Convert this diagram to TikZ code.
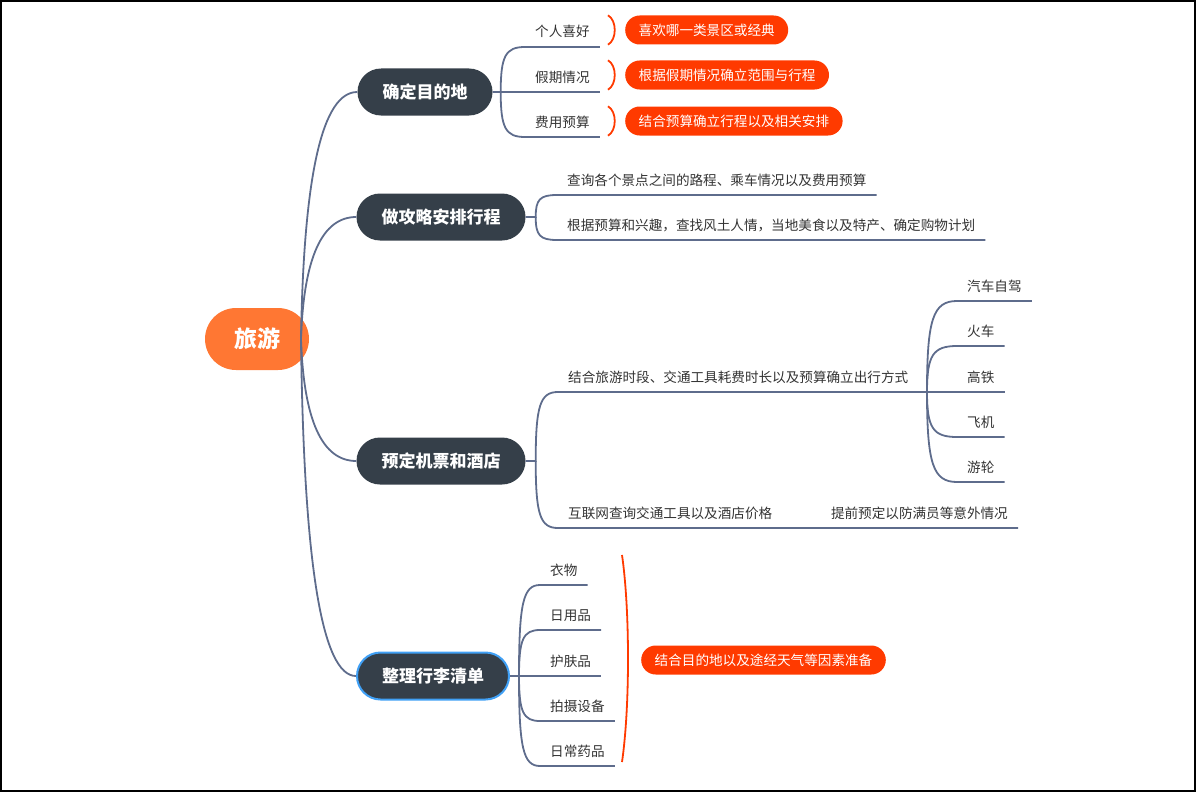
\documentclass[tikz,border=0pt]{standalone}
\usepackage{fontspec}
\setmainfont{Noto Sans CJK SC}
\usetikzlibrary{positioning,calc}

\definecolor{linkgray}{RGB}{94,108,140}
\definecolor{topicdark}{RGB}{53,63,73}
\definecolor{rootorange}{RGB}{255,119,51}
\definecolor{notered}{RGB}{255,58,0}
\definecolor{selblue}{RGB}{64,160,245}
\definecolor{textgray}{RGB}{51,51,51}

\begin{document}
\begin{tikzpicture}[
    x=1pt, y=-1pt,
    root/.style={rectangle, rounded corners=31pt, fill=rootorange, text=white, minimum height=62pt, inner xsep=29pt, font=\fontsize{23}{26}\selectfont\bfseries},
    topic/.style={rectangle, rounded corners=23.5pt, fill=topicdark, text=white, minimum height=47pt, inner xsep=25pt, font=\fontsize{17}{20}\selectfont\bfseries},
    sub/.style={anchor=south west, inner xsep=10pt, inner ysep=3pt, text height=11pt, text depth=6.8pt, text=textgray, font=\fontsize{13.6}{16}\selectfont},
    note/.style={rectangle, rounded corners=14.5pt, fill=notered, text=white, minimum height=29pt, inner xsep=13.5pt, anchor=west, font=\fontsize{13.6}{16}\selectfont},
    link/.style={draw=linkgray, line width=1.8pt},
    brace/.style={draw=notered, line width=1.8pt},
    elbow/.style={to path={.. controls ($(\tikztostart)!0.8!(\tikztostart |- \tikztotarget)$) and ($(\tikztotarget)!0.8!(\tikztostart |- \tikztotarget)$) .. (\tikztotarget)}}
]
    \useasboundingbox (0,0) rectangle (1196,792);
    \draw[line width=2.5pt] (1,1) rectangle (1195,791);

    % Topics
    \node[root] (trip) at (257,339) {旅游};
    \node[topic] (dest) at (425,92) {确定目的地};
    \node[topic] (plan) at (441,217) {做攻略安排行程};
    \node[topic] (book) at (441,461) {预定机票和酒店};
    \node[topic, draw=selblue, line width=2pt] (pack) at (433,676) {整理行李清单};

    % Root links
    \coordinate (r0) at (301,339);
    \coordinate (r1) at (305,339);
    \coordinate (cd) at (r1 |- dest.west);
    \coordinate (cp) at (r1 |- plan.west);
    \coordinate (cb) at (r1 |- book.west);
    \coordinate (ck) at (r1 |- pack.west);
    \draw[link] (r0) .. controls ($(r0)!0.667!(cd)$) and ($(dest.west)!0.667!(cd)$) .. (dest.west);
    \draw[link] (r0) .. controls ($(r0)!0.667!(cp)$) and ($(plan.west)!0.667!(cp)$) .. (plan.west);
    \draw[link] (r0) .. controls ($(r0)!0.667!(cb)$) and ($(book.west)!0.667!(cb)$) .. (book.west);
    \draw[link] (r0) .. controls ($(r0)!0.667!(ck)$) and ($(pack.west)!0.667!(ck)$) .. (pack.west);

    % Destination
    \node[sub] (like) at (525,47) {个人喜好};
    \node[sub] (holiday) at (525,92) {假期情况};
    \node[sub] (budget) at (525,137) {费用预算};
    \coordinate (d0) at ([xshift=8pt]dest.east);
    \draw[link] (dest.east) -- (d0) to[elbow] (like.south west) -- (like.south east);
    \draw[link] (dest.east) -- (holiday.south east);
    \draw[link] (d0) to[elbow] (budget.south west) -- (budget.south east);

    \node[note] (likenote) at (625,30) {喜欢哪一类景区或经典};
    \node[note] (holinote) at (625,75) {根据假期情况确立范围与行程};
    \node[note] (budgnote) at (625,121) {结合预算确立行程以及相关安排};
    \draw[brace] ([xshift=-17pt]likenote.north west) .. controls +(9,5) and +(9,-5) .. ([xshift=-17pt]likenote.south west);
    \draw[brace] ([xshift=-17pt]holinote.north west) .. controls +(9,5) and +(9,-5) .. ([xshift=-17pt]holinote.south west);
    \draw[brace] ([xshift=-17pt]budgnote.north west) .. controls +(9,5) and +(9,-5) .. ([xshift=-17pt]budgnote.south west);

    % Plan
    \node[sub] (route) at (557,195) {查询各个景点之间的路程、乘车情况以及费用预算};
    \node[sub] (taste) at (557,240) {根据预算和兴趣，查找风土人情，当地美食以及特产、确定购物计划};
    \coordinate (p0) at ([xshift=10pt]plan.east);
    \draw[link] (plan.east) -- (p0) to[elbow] (route.south west) -- (route.south east);
    \draw[link] (p0) to[elbow] (taste.south west) -- (taste.south east);

    % Booking
    \node[sub] (mode) at (558,392) {结合旅游时段、交通工具耗费时长以及预算确立出行方式};
    \node[sub] (price) at (558,528) {互联网查询交通工具以及酒店价格};
    \node[sub, anchor=south east] (early) at (1018,528) {提前预定以防满员等意外情况};
    \coordinate (b0) at ([xshift=10pt]book.east);
    \draw[link] (book.east) -- (b0) to[elbow] (mode.south west) -- (mode.south east);
    \draw[link] (b0) to[elbow] (price.south west) -- (price.south east) -- (early.south east);

    \coordinate (m0) at (927,392);
    \node[sub] (car) at (957,301) {汽车自驾};
    \node[sub] (train) at (957,346) {火车};
    \node[sub] (rail) at (957,392) {高铁};
    \node[sub] (plane) at (957,437) {飞机};
    \node[sub] (ship) at (957,482) {游轮};
    \draw[link] (mode.south east) -- (m0) -- (rail.south east);
    \draw[link] (m0) to[elbow] (car.south west) -- (car.south east);
    \draw[link] (m0) to[elbow] (train.south west) -- (train.south east);
    \draw[link] (m0) to[elbow] (plane.south west) -- (plane.south east);
    \draw[link] (m0) to[elbow] (ship.south west) -- (ship.south east);

    % Packing
    \node[sub] (clothes) at (540,585) {衣物};
    \node[sub] (daily) at (540,630) {日用品};
    \node[sub] (skin) at (540,676) {护肤品};
    \node[sub] (camera) at (540,721) {拍摄设备};
    \node[sub] (medic) at (540,766) {日常药品};
    \coordinate (k0) at ([xshift=9pt]pack.east);
    \draw[link] (pack.east) -- (k0) to[elbow] (clothes.south west) -- (clothes.south east);
    \draw[link] (k0) to[elbow] (daily.south west) -- (daily.south east);
    \draw[link] (pack.east) -- (skin.south east);
    \draw[link] (k0) to[elbow] (camera.south west) -- (camera.south east);
    \draw[link] (k0) to[elbow] (medic.south west) -- (medic.south east);

    \coordinate (bt) at (622,555);
    \coordinate (bb) at (622,762);
    \draw[brace] (bt) .. controls (630,610) and (630,707) .. (bb);
    \node[note] (packnote) at (641,660) {结合目的地以及途经天气等因素准备};

\end{tikzpicture}
\end{document}
